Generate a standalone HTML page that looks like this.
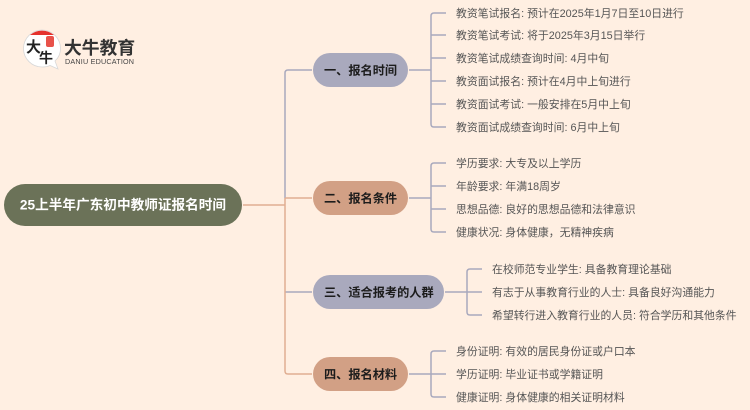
<!DOCTYPE html>
<html lang="zh"><head><meta charset="utf-8"><style>
html,body{margin:0;padding:0;background:#FFEFE2}
svg{display:block}
text{font-family:"Liberation Sans","Noto Sans CJK SC",sans-serif}
.l{font-size:10.85px;fill:#555}
.n{font-size:12.2px;font-weight:700;fill:#1c1c1c}
</style></head><body>
<svg width="750" height="410" viewBox="0 0 750 410" xmlns="http://www.w3.org/2000/svg">
<rect width="750" height="410" fill="#FFEFE2"/>
<g fill="none" stroke-width="1.5">
<path d="M285 198V73Q285 70 288 70H312" stroke="#A9A9BD"/>
<path d="M285 292H312" stroke="#A9A9BD"/>
<path d="M243 205H285M285 198H312M285 198V371Q285 374 288 374H312" stroke="#E0AE92"/>
<g stroke="#A9A9BD">
<path d="M409 70H431M446 13H434Q431 13 431 16V124Q431 127 434 127H446M431 35H446M431 58H446M431 81H446M431 104H446"/>
<path d="M409 198H431M446 163H434Q431 163 431 166V229Q431 232 434 232H446M431 186H446M431 209H446"/>
<path d="M445 292H482M482 269H470Q467 269 467 272V312Q467 315 470 315H482"/>
<path d="M409 374H446M446 351H434Q431 351 431 354V394Q431 397 434 397H446"/>
</g></g>
<rect x="4" y="184" width="238" height="42" rx="21" fill="#6B7258"/>
<text x="123" y="209.500" text-anchor="middle" font-size="13.65" font-weight="700" fill="#fff">25上半年广东初中教师证报名时间</text>
<rect x="313" y="53" width="95" height="34" rx="17" fill="#A9A9BD"/>
<rect x="313" y="181" width="95" height="34" rx="17" fill="#D2A085"/>
<rect x="313" y="275" width="131" height="34" rx="17" fill="#A9A9BD"/>
<rect x="313" y="357" width="95" height="34" rx="17" fill="#D2A085"/>
<text class="n" x="324" y="74.500">一、报名时间</text>
<text class="n" x="324" y="202.500">二、报名条件</text>
<text class="n" x="324" y="296.500">三、适合报考的人群</text>
<text class="n" x="324" y="378.500">四、报名材料</text>
<g>
<text class="l" x="456" y="17">教资笔试报名: 预计在2025年1月7日至10日进行</text>
<text class="l" x="456" y="39">教资笔试考试: 将于2025年3月15日举行</text>
<text class="l" x="456" y="62">教资笔试成绩查询时间: 4月中旬</text>
<text class="l" x="456" y="85">教资面试报名: 预计在4月中上旬进行</text>
<text class="l" x="456" y="108">教资面试考试: 一般安排在5月中上旬</text>
<text class="l" x="456" y="131">教资面试成绩查询时间: 6月中上旬</text>
<text class="l" x="456" y="167">学历要求: 大专及以上学历</text>
<text class="l" x="456" y="190">年龄要求: 年满18周岁</text>
<text class="l" x="456" y="213">思想品德: 良好的思想品德和法律意识</text>
<text class="l" x="456" y="236">健康状况: 身体健康，无精神疾病</text>
<text class="l" x="492" y="273">在校师范专业学生: 具备教育理论基础</text>
<text class="l" x="492" y="296">有志于从事教育行业的人士: 具备良好沟通能力</text>
<text class="l" x="492" y="319">希望转行进入教育行业的人员: 符合学历和其他条件</text>
<text class="l" x="456" y="355">身份证明: 有效的居民身份证或户口本</text>
<text class="l" x="456" y="378">学历证明: 毕业证书或学籍证明</text>
<text class="l" x="456" y="401">健康证明: 身体健康的相关证明材料</text>
</g>
<path d="M42 30A18.500 18.500 0 1 0 42 67Q47 67 50 65.500L58 69L55 61Q60.500 56 60.500 48.500A18.500 18.500 0 0 0 42 30Z" fill="#fff" stroke="#d8d8d8" stroke-width=".8"/>
<path d="M30 35A18.500 18.500 0 0 1 54 35Z" fill="#E5322D"/>
<rect x="46" y="36" width="8" height="11" rx="2" fill="#E8524A"/>
<text x="26" y="52" font-size="15" font-family="Liberation Serif,Noto Serif CJK SC,serif" font-weight="700" fill="#222">大</text>
<text x="39" y="63" font-size="14" font-family="Liberation Serif,Noto Serif CJK SC,serif" font-weight="700" fill="#222">牛</text>
<text x="64" y="54" font-size="17.800" font-weight="700" fill="#333">大牛教育</text>
<text x="65" y="64" font-size="7.2" fill="#444" textLength="69">DANIU EDUCATION</text>
</svg>
</body></html>
